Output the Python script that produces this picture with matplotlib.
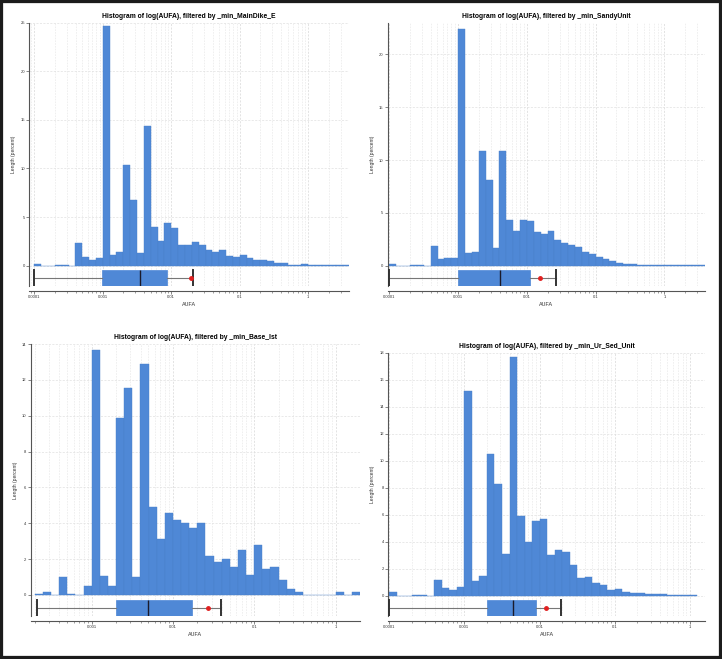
import matplotlib
matplotlib.use("Agg")
import matplotlib.pyplot as plt
from matplotlib import ticker
from matplotlib.patches import Rectangle
import numpy as np

plt.rcParams['font.family'] = ['Liberation Sans', 'DejaVu Sans']

# -------------------- data --------------------
titles = [
    "Histogram of log(AUFA), filtered by _min_MainDike_E",
    "Histogram of log(AUFA), filtered by _min_SandyUnit",
    "Histogram of log(AUFA), filtered by _min_Base_lst",
    "Histogram of log(AUFA), filtered by _min_Ur_Sed_Unit",
]

# histogram bins are 0.1 wide in log10(AUFA); first bin starts at these log10 values
bin_width = 0.1
bin_start = [-4.0, -4.0, -3.7, -4.0]

pct_maindike = [0.2, 0, 0, 0.05, 0.05, 0, 2.3, 0.9, 0.55, 0.8, 24.7, 1.1, 1.45, 10.4, 6.8,
                1.25, 14.4, 4.0, 2.5, 4.35, 3.85, 2.15, 2.15, 2.4, 2.1, 1.6, 1.45, 1.65, 1.0,
                0.85, 1.05, 0.75, 0.6, 0.6, 0.45, 0.3, 0.25, 0.08, 0.1, 0.12, 0.1, 0.05, 0.04,
                0.03, 0.02, 0.02]
pct_sandy = [0.15, 0, 0, 0.05, 0.05, 0, 1.9, 0.63, 0.7, 0.75, 22.36, 1.17, 1.32, 10.87, 8.1,
             1.64, 10.87, 4.3, 3.3, 4.35, 4.2, 3.15, 3.0, 3.27, 2.4, 2.1, 1.95, 1.8, 1.32, 1.07,
             0.85, 0.63, 0.44, 0.25, 0.16, 0.13, 0.1, 0.09, 0.06, 0.05, 0.05, 0.03, 0.02, 0.02,
             0.02, 0.02]
pct_base = [0.08, 0.15, 0, 0.98, 0.08, 0, 0.5, 13.65, 1.05, 0.5, 9.85, 11.55, 1.0, 12.9, 4.9,
            3.1, 4.6, 4.2, 4.0, 3.75, 4.0, 2.2, 1.85, 2.0, 1.55, 2.5, 1.1, 2.8, 1.45, 1.55, 0.85,
            0.35, 0.15, 0, 0, 0, 0, 0.15, 0, 0.15]
pct_ursed = [0.25, 0, 0, 0.03, 0.03, 0, 1.15, 0.55, 0.4, 0.65, 15.2, 1.1, 1.45, 10.5, 8.3, 3.05,
             17.65, 5.9, 3.95, 5.5, 5.65, 3.0, 3.35, 3.25, 2.3, 1.3, 1.4, 0.9, 0.8, 0.45, 0.5,
             0.3, 0.2, 0.2, 0.12, 0.1, 0.1, 0.05, 0.04, 0.03, 0.02]
percents = [pct_maindike, pct_sandy, pct_base, pct_ursed]

# box plot statistics of AUFA
box_q1 = [0.00098, 0.00101, 0.0020, 0.00202]
box_med = [0.00345, 0.0040, 0.00495, 0.00443]
box_q3 = [0.00875, 0.0111, 0.0171, 0.00893]
box_lo = [0.0001, 0.0001, 0.000214, 0.0001]
box_hi = [0.0205, 0.0261, 0.0392, 0.0194]
box_mean = [0.0194, 0.0153, 0.027, 0.0120]

y_top = [25, 23, 14, 18]
y_step = [5, 5, 2, 2]
x_lims = [(10 ** -4.073, 10 ** 0.595), (10 ** -4.024, 10 ** 0.59),
          (10 ** -3.75, 10 ** 0.30), (10 ** -4.013, 10 ** 0.2)]
x_ticks = [0.0001, 0.001, 0.01, 0.1, 1]

# axes rectangles in figure fraction [left, bottom, width, height]
rects = [
    [0.0406, 0.566, 0.4428, 0.3995],
    [0.5370, 0.566, 0.4395, 0.3995],
    [0.0425, 0.0652, 0.4560, 0.4127],
    [0.5378, 0.0652, 0.4386, 0.3995],
]

BLUE = "#4f88d6"

fig = plt.figure(figsize=(7.22, 6.59), dpi=100)
fig.patch.set_facecolor("white")

for i in range(4):
    ax = fig.add_axes(rects[i])
    ax.set_xscale("log")

    vals = np.array(percents[i])
    edges = 10 ** (bin_start[i] + bin_width * np.arange(len(vals) + 1))
    ax.bar(edges[:-1], vals, width=np.diff(edges), align="edge", color=BLUE,
           edgecolor="#4a80c8", linewidth=0.3, zorder=2)

    top = y_top[i]
    ymin = -0.084 * top
    pos = -0.051 * top
    stats = [dict(q1=box_q1[i], med=box_med[i], q3=box_q3[i], whislo=box_lo[i],
                  whishi=box_hi[i], mean=box_mean[i], fliers=[])]
    ax.bxp(stats, positions=[pos], widths=0.062 * top, orientation="horizontal",
           showmeans=True, patch_artist=True, manage_ticks=False,
           boxprops=dict(facecolor=BLUE, edgecolor=BLUE, linewidth=0.5),
           medianprops=dict(color="#1a1a2a", linewidth=1.0),
           whiskerprops=dict(color="#777777", linewidth=0.8),
           capprops=dict(color="#333333", linewidth=1.4),
           capwidths=0.062 * top,
           meanprops=dict(marker="o", markerfacecolor="#e02020", markeredgecolor="#e02020",
                          markersize=2.5),
           zorder=3)

    ax.set_xlim(*x_lims[i])
    ax.set_ylim(ymin, top)
    ax.set_yticks(np.arange(0, top + 0.01, y_step[i]))
    ax.yaxis.set_major_formatter(ticker.FormatStrFormatter("%d"))
    ax.set_xticks(x_ticks)
    ax.xaxis.set_major_formatter(ticker.FuncFormatter(lambda v, p: f"{v:g}"))
    ax.xaxis.set_minor_locator(ticker.LogLocator(base=10, subs=np.arange(2, 10)))
    ax.xaxis.set_minor_formatter(ticker.NullFormatter())
    ax.set_xlim(*x_lims[i])

    ax.grid(True, which="major", axis="x", color="#d8d8d8", linewidth=0.5,
            linestyle=(0, (3, 2)), zorder=0)
    ax.grid(True, which="minor", axis="x", color="#e4e4e4", linewidth=0.4,
            linestyle=(0, (3, 2)), zorder=0)
    ax.grid(True, which="major", axis="y", color="#e0e0e0", linewidth=0.5,
            linestyle=(0, (3, 2)), zorder=0)
    ax.set_axisbelow(True)

    for s in ("top", "right"):
        ax.spines[s].set_visible(False)
    ax.spines["bottom"].set_position(("outward", 3.4))
    ax.spines["left"].set_color("#555555")
    ax.spines["bottom"].set_color("#555555")
    ax.spines["left"].set_linewidth(0.8)
    ax.spines["bottom"].set_linewidth(0.8)

    ax.tick_params(axis="both", which="major", labelsize=3.0, length=2, width=0.5,
                   colors="#555555", pad=1.2, labelcolor="#333333")
    ax.tick_params(axis="x", which="minor", length=1.3, width=0.4, colors="#555555")

    ax.set_title(titles[i], fontsize=4.9, fontweight="bold", pad=3.5)
    ax.set_xlabel("AUFA", fontsize=3.9, labelpad=2, color="#333333")
    ax.set_ylabel("Length (percent)", fontsize=3.6, labelpad=3, color="#333333")

# dark frame round the whole picture
fig.patches.append(Rectangle((0, 0), 1, 1, transform=fig.transFigure, fill=False,
                             edgecolor="#1c1c1c", linewidth=4.5))

fig.savefig("out.png", dpi=100)
